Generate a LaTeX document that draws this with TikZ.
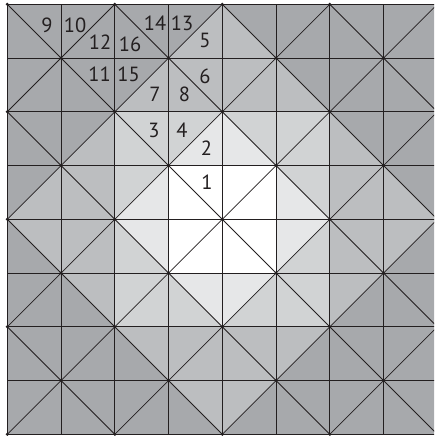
\documentclass[tikz,border=0pt]{standalone}
\usepackage{fontspec}
\setmainfont{PT Sans}
\definecolor{gfour}{HTML}{A7A9AC}
\definecolor{gthree}{HTML}{BCBEC0}
\definecolor{gtwo}{HTML}{D1D3D4}
\definecolor{gone}{HTML}{E6E7E8}
\definecolor{ink}{HTML}{231F20}
\tikzset{
  gridline/.style={draw=ink, line width=1.0pt},
  diagline/.style={draw=ink, line width=0.85pt},
  lab/.style={inner sep=0pt, text=ink, font=\fontsize{20.5}{20.5}\selectfont}
}
\begin{document}
\begin{tikzpicture}[x=1pt,y=-1pt]
\useasboundingbox (0,0) rectangle (434,436);
\fill[white] (0,0) rectangle (434,436);
\clip (0,0) rectangle (434,436);
\begin{scope}[shift={(7.3,4.3)}, x=53.75pt, y=-53.75pt]
  % nested shading: square, diamond, square, diamond, square
  \fill[gfour] (0,0) rectangle (8,8);
  \fill[gthree] (4,0) -- (8,4) -- (4,8) -- (0,4) -- cycle;
  \fill[gtwo] (2,2) rectangle (6,6);
  \fill[gone] (4,2) -- (6,4) -- (4,6) -- (2,4) -- cycle;
  \fill[white] (3,3) rectangle (5,5);
  % diagonals
  \begin{scope}
    \clip (0,0) rectangle (8,8);
    \foreach \k in {-8,-6,...,8} {
      \draw[diagline] (\k,0) -- ++(8,8);
      \draw[diagline] (\k+8,0) -- ++(-8,8);
    }
  \end{scope}
  % square grid
  \foreach \i in {0,...,8} {
    \draw[gridline] (\i,0) -- (\i,8);
    \draw[gridline] (0,\i) -- (8,\i);
  }
  % dots where the diagonals cross
  \foreach \i in {0,...,8} {
    \foreach \j in {0,...,8} {
      \pgfmathtruncatemacro{\parity}{mod(\i+\j,2)}
      \ifnum\parity=0 \fill[ink] (\i,\j) circle[radius=1.7pt]; \fi
    }
  }
\end{scope}
% labels
\node[lab] (n1)  at (207,182.5) {1};
\node[lab] (n2)  at (206.5,148) {2};
\node[lab] (n3)  at (154,130) {3};
\node[lab] (n4)  at (182,130) {4};
\node[lab] (n5)  at (205,40) {5};
\node[lab] (n6)  at (205,76.5) {6};
\node[lab] (n7)  at (155,94) {7};
\node[lab] (n8)  at (184.5,94) {8};
\node[lab] (n9)  at (47,25) {9};
\node[lab] (n10) at (75,25) {10};
\node[lab] (n11) at (99.5,74.5) {11};
\node[lab] (n12) at (100,42) {12};
\node[lab] (n13) at (182,23.5) {13};
\node[lab] (n14) at (155,23.5) {14};
\node[lab] (n15) at (128.5,74) {15};
\node[lab] (n16) at (130,44) {16};
\end{tikzpicture}
\end{document}
